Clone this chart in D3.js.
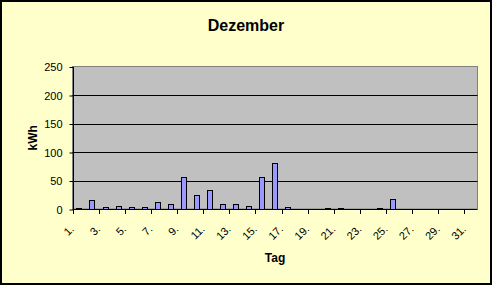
<!DOCTYPE html>
<html>
<head>
<meta charset="utf-8">
<script src="https://cdn.jsdelivr.net/npm/d3@7"></script>
<style>
  body { margin: 0; background: #fff; }
  svg { display: block; font-family: "Liberation Sans", Arial, sans-serif; }
</style>
</head>
<body>
<div id="chart"></div>
<script>
// Dezember - daily kWh
const days = ["1.","2.","3.","4.","5.","6.","7.","8.","9.","10.","11.","12.","13.","14.","15.","16.",
              "17.","18.","19.","20.","21.","22.","23.","24.","25.","26.","27.","28.","29.","30.","31."];
const kwh = [2,16,4,6,4,4,13,8,57,24,33,8,8,6,56,81,4,0,0,1,1,0,0,1,18,0,0,0,0,0,0];
const yTicks = [0, 50, 100, 150, 200, 250];

const W = 492, H = 285;
const plot = { left: 72.5, right: 477.5, top: 66.5, bottom: 209 };

const svg = d3.select("#chart").append("svg")
    .attr("width", W)
    .attr("height", H);

// chart background + frame
svg.append("rect")
    .attr("x", 1).attr("y", 1)
    .attr("width", W - 2).attr("height", H - 2)
    .attr("fill", "#FFFFCC")
    .attr("stroke", "#000")
    .attr("stroke-width", 2);

var x = d3.scaleBand().domain(days).range([plot.left, plot.right]);
var y = d3.scaleLinear().domain([0, 250]).range([plot.bottom, plot.top]);
var step = x.step();

// plot area
svg.append("rect")
    .attr("x", plot.left).attr("y", plot.top)
    .attr("width", plot.right - plot.left)
    .attr("height", plot.bottom - plot.top)
    .attr("fill", "#C0C0C0")
    .attr("stroke", "#808080")
    .attr("stroke-width", 1);

// gridlines
svg.selectAll(".grid")
    .data(yTicks.filter(t => t > 0 && t < 250))
    .enter().append("line")
    .attr("class", "grid")
    .attr("x1", plot.left).attr("x2", plot.right)
    .attr("y1", d => Math.round(y(d)) + 0.5)
    .attr("y2", d => Math.round(y(d)) + 0.5)
    .attr("stroke", "#000");

// bars (gap width 150%)
svg.selectAll(".bar")
    .data(kwh)
    .enter().append("rect")
    .attr("class", "bar")
    .attr("x", (d, i) => Math.round(x(days[i]) + step * 0.3) + 0.5)
    .attr("width", Math.round(step * 0.4))
    .attr("y", d => Math.round(y(d)) + 0.5)
    .attr("height", d => Math.max(0, Math.round(y(0)) - Math.round(y(d))))
    .attr("fill", "#9999FF")
    .attr("stroke", "#000")
    .attr("stroke-width", 1)
    .style("display", d => d > 0 ? null : "none");

// y axis
var yAxis = svg.append("g")
    .attr("transform", `translate(${Math.round(plot.left) + 0.5},0.5)`)
    .call(d3.axisLeft(y).tickValues(yTicks).tickSize(4).tickPadding(7));
yAxis.select(".domain").attr("stroke", "#000").attr("d", `M0,${y(250)}V${y(0)}`);
yAxis.selectAll("text")
    .style("font-size", "11px")
    .attr("fill", "#000");

// x baseline and ticks every 2 days
svg.append("line")
    .attr("x1", plot.left).attr("x2", plot.right)
    .attr("y1", Math.round(y(0)) + 0.5).attr("y2", Math.round(y(0)) + 0.5)
    .attr("stroke", "#000");

svg.selectAll(".xtick")
    .data(days.filter((d, i) => i % 2 === 0))
    .enter().append("line")
    .attr("class", "xtick")
    .attr("x1", d => Math.round(x(d)) + 0.5)
    .attr("x2", d => Math.round(x(d)) + 0.5)
    .attr("y1", Math.round(y(0)))
    .attr("y2", Math.round(y(0)) + 5)
    .attr("stroke", "#000");

svg.selectAll(".xlabel")
    .data(days.filter((d, i) => i % 2 === 0))
    .enter().append("text")
    .attr("class", "xlabel")
    .attr("transform", d => `translate(${x(d) + step / 2 - 7},${y(0) + 18}) rotate(-45)`)
    .attr("text-anchor", "end")
    .attr("dy", "0.35em")
    .style("font-size", "11px")
    .text(d => d);

// titles
svg.append("text")
    .attr("x", W / 2).attr("y", 31)
    .attr("text-anchor", "middle")
    .style("font-size", "16px")
    .style("font-weight", "bold")
    .text("Dezember");

svg.append("text")
    .attr("x", (plot.left + plot.right) / 2).attr("y", 262)
    .attr("text-anchor", "middle")
    .style("font-size", "12px")
    .style("font-weight", "bold")
    .text("Tag");

svg.append("text")
    .attr("transform", `translate(37,${(plot.top + plot.bottom) / 2}) rotate(-90)`)
    .attr("text-anchor", "middle")
    .style("font-size", "12px")
    .style("font-weight", "bold")
    .text("kWh");
</script>
</body>
</html>
